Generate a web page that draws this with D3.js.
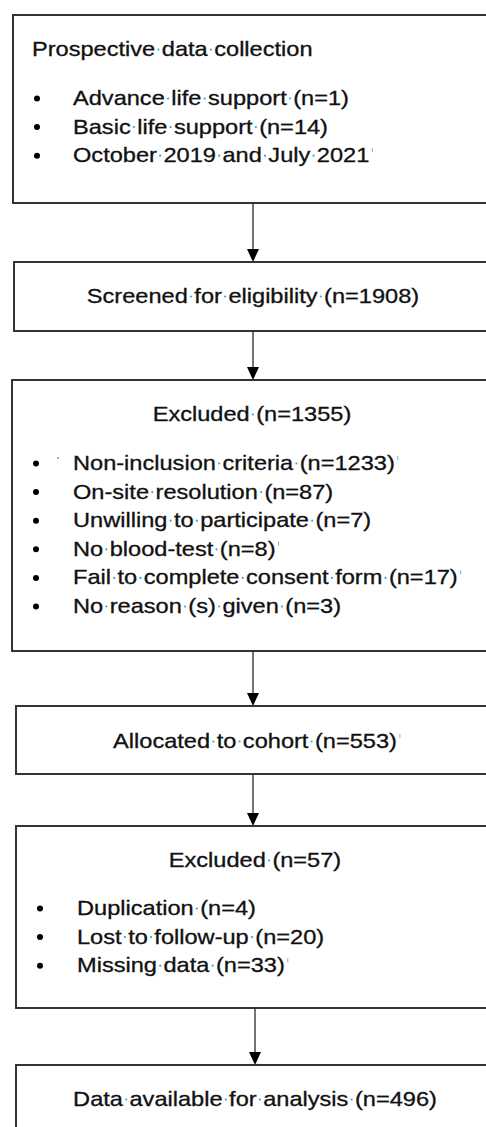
<!DOCTYPE html>
<html>
<head>
<meta charset="utf-8">
<script src="https://cdn.jsdelivr.net/npm/d3@7"></script>
<style>
  html, body { margin: 0; padding: 0; background: #fff; }
  svg { display: block; }
  text { font-family: "Liberation Sans", Arial, Helvetica, sans-serif; fill: #111; stroke: #111; stroke-width: 0.3; }
</style>
</head>
<body>
<svg id="chart" width="486" height="1127"></svg>
<script>
// box contents, top to bottom
const titles = [
  "Prospective data collection",
  "Screened for eligibility (n=1908)",
  "Excluded (n=1355)",
  "Allocated to cohort (n=553)",
  "Excluded (n=57)",
  "Data available for analysis (n=496)"
];
const items = [
  ["Advance life support (n=1)", "Basic life support (n=14)", "October 2019 and July 2021"],
  [],
  ["Non-inclusion criteria (n=1233)", "On-site resolution (n=87)", "Unwilling to participate (n=7)",
   "No blood-test (n=8)", "Fail to complete consent form (n=17)", "No reason (s) given (n=3)"],
  [],
  ["Duplication (n=4)", "Lost to follow-up (n=20)", "Missing data (n=33)"],
  []
];
// lines that show a paragraph mark at the end (Word formatting marks)
const marked = ["October 2019 and July 2021", "Non-inclusion criteria (n=1233)", "No blood-test (n=8)",
  "Fail to complete consent form (n=17)", "Allocated to cohort (n=553)", "Missing data (n=33)"];

// layout of the page
const layout = [
  { x0: 13, y0: 15,   y1: 203,  ty: 56,   align: "start", tx: 32, item0: 105, bx: 37, ix: 73 },
  { x0: 14, y0: 262,  y1: 331,  ty: 303,  align: "middle", tx: 253 },
  { x0: 12, y0: 380,  y1: 651,  ty: 421,  align: "middle", tx: 252, item0: 470, bx: 36, ix: 73 },
  { x0: 16, y0: 706,  y1: 774,  ty: 748,  align: "middle", tx: 255 },
  { x0: 16, y0: 826,  y1: 1008, ty: 867,  align: "middle", tx: 255, item0: 915, bx: 40, ix: 77 },
  { x0: 16, y0: 1065, y1: 1160, ty: 1106, align: "middle", tx: 255 }
];
const arrowX = [253, 253, 253, 253, 255];
const step = 28.6;
const fontSize = 20;
const stretch = 1.18;   // the scan's type is wider than Liberation Sans
const dotColor = "#2aa7df";

const svg = d3.select("#chart");
const y = d3.scaleLinear().domain([0, 1127]).range([0, 1127]);

// arrows between boxes
const arrows = d3.range(titles.length - 1).map(i => ({
  x: arrowX[i], y0: layout[i].y1, y1: layout[i + 1].y0
}));
const ag = svg.append("g").attr("class", "arrows");
ag.selectAll("line").data(arrows).join("line")
  .attr("x1", d => d.x).attr("x2", d => d.x)
  .attr("y1", d => y(d.y0)).attr("y2", d => y(d.y1) - 10)
  .attr("stroke", "#3a3a3a").attr("stroke-width", 1.4);
ag.selectAll("path").data(arrows).join("path")
  .attr("d", d => `M${d.x - 6},${y(d.y1) - 13}L${d.x + 6},${y(d.y1) - 13}L${d.x},${y(d.y1)}Z`)
  .attr("fill", "#000");

// boxes
const boxes = svg.selectAll("g.box")
  .data(titles.map((t, i) => ({ title: t, items: items[i], ...layout[i] })))
  .join("g").attr("class", "box");

boxes.append("rect")
  .attr("x", d => d.x0).attr("y", d => y(d.y0))
  .attr("width", d => 520 - d.x0).attr("height", d => y(d.y1) - y(d.y0))
  .attr("fill", "none").attr("stroke", "#2b2b2b").attr("stroke-width", 1.9);

function label(g, t, x, by, anchor) {
  g.append("text").attr("class", "label")
    .attr("transform", `translate(${x},${by}) scale(${stretch},1)`)
    .attr("text-anchor", anchor)
    .attr("font-size", fontSize)
    .datum({ x: x, y: by })
    .text(t);
}

boxes.each(function(d) {
  const g = d3.select(this);
  label(g, d.title, d.tx, y(d.ty), d.align);
  d.items.forEach((t, k) => {
    const by = y(d.item0 + k * step);
    g.append("circle").attr("cx", d.bx).attr("cy", by - 6.5).attr("r", 3).attr("fill", "#000");
    label(g, t, d.ix, by, "start");
  });
});

// Word formatting marks: blue dots on spaces, small ticks at some line ends
svg.selectAll("text.label").each(function(p) {
  const node = this;
  const s = node.textContent;
  const parent = d3.select(node.parentNode);
  const px = v => p.x + stretch * v;
  for (let i = 0; i < s.length; i++) {
    if (s[i] !== " ") continue;
    const a = node.getStartPositionOfChar(i).x;
    const b = node.getEndPositionOfChar(i).x;
    parent.append("circle").attr("cx", px((a + b) / 2)).attr("cy", p.y - 6.5)
      .attr("r", 1.1).attr("fill", dotColor);
  }
  if (marked.includes(s)) {
    const e = px(node.getEndPositionOfChar(s.length - 1).x);
    parent.append("line").attr("x1", e + 3).attr("x2", e + 3)
      .attr("y1", p.y - 14).attr("y2", p.y - 10)
      .attr("stroke", dotColor).attr("stroke-width", 0.8);
  }
});
// stray tab mark before the first exclusion reason
svg.append("circle").attr("cx", 58).attr("cy", y(458)).attr("r", 0.9).attr("fill", dotColor);
</script>
</body>
</html>
